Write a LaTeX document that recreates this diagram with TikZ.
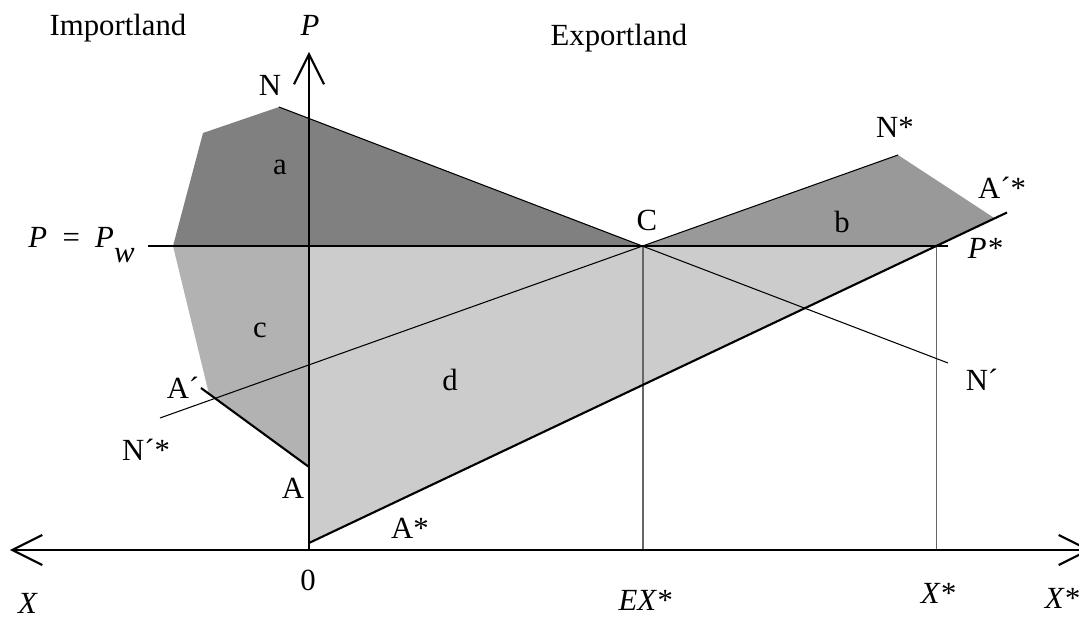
\documentclass[tikz,border=0pt]{standalone}
\usepackage{fontspec}
\setmainfont{Liberation Serif}
\usetikzlibrary{arrows.meta,calc,positioning}

\begin{document}
\begin{tikzpicture}[scale=1.0,
  barb/.tip={Straight Barb[length=0.6cm,width=0.6cm]},
  axisline/.style={line width=1.2pt},
  thickline/.style={line width=1.2pt},
  thinline/.style={line width=0.6pt},
  guide/.style={line width=0.6pt,black!60},
  lbl/.style={font=\fontsize{17.5}{21}\selectfont,inner sep=0pt}]
 \useasboundingbox (-6.18,-1.38) rectangle (15.4,11.0);
 % points
 \coordinate (O) at (0,0);
 \coordinate (C) at (6.68,6.08);
 \coordinate (S) at (12.55,6.08);
 \coordinate (Pl) at (-3.22,6.08);
 \coordinate (Pr) at (12.78,6.08);
 \coordinate (Ptop) at (0,9.96);
 \coordinate (Xl) at (-5.98,0);
 \coordinate (Xr) at (15.64,0);
 \coordinate (N) at (-0.6,8.86);
 \coordinate (Nd) at (12.78,3.74);
 \coordinate (Nsl) at (-2.98,2.64);
 \coordinate (Ns) at (11.78,7.9);
 \coordinate (Ap) at (-2.16,3.24);
 \coordinate (A) at (0,1.66);
 \coordinate (As0) at (0,0.14);
 \coordinate (As1) at (13.96,6.75);
 % areas
 \fill[black!50] (-2.72,6.08) -- (-2.12,8.34) -- (N) -- (C) -- cycle;
 \fill[black!40] (C) -- (Ns) -- (13.72,6.63) -- (S) -- cycle;
 \fill[black!30] (-2.72,6.08) -- (0,6.08) -- (A) -- (-2.0,3.12) -- cycle;
 \fill[black!20] (0,6.08) -- (S) -- (As0) -- cycle;
 % lines
 \draw[guide] (C) -- (C |- O);
 \draw[guide] (S) -- (S |- O);
 \draw[thinline] (N) -- (Nd);
 \draw[thinline] (Nsl) -- (Ns);
 \draw[thickline] (Ap) -- (A);
 \draw[thickline] (As0) -- (As1);
 \draw[thickline] (Pl) -- (Pr);
 \draw[axisline,-barb] (O) -- (Ptop);
 \draw[axisline,barb-barb] (Xl) -- (Xr);
 % labels
 \node[lbl] (imp) at (-3.82,10.44) {Importland};
 \node[lbl] (exp) at (6.2,10.24) {Exportland};
 \node[lbl] (lP) at (0.02,10.5) {\textit{P}};
 \node[lbl] (lN) at (-0.78,9.3) {N};
 \node[lbl] (la) at (-0.58,7.66) {a};
 \node[lbl,anchor=base west] (lPw) at (-5.62,6.04)
   {\textit{P}\hspace{0.5em}=\hspace{0.5em}\textit{P}\raisebox{-8pt}{\textit{w}}};
 \node[lbl] (lC) at (6.76,6.6) {C};
 \node[lbl] (lNs) at (11.72,8.46) {N*};
 \node[lbl] (lAps) at (13.86,7.24) {A´*};
 \node[lbl] (lb) at (10.66,6.56) {b};
 \node[lbl] (lPs) at (13.52,6.04) {\textit{P*}};
 \node[lbl] (lc) at (-0.98,4.4) {c};
 \node[lbl] (ld) at (2.82,3.4) {d};
 \node[lbl] (lAp) at (-2.52,3.24) {A´};
 \node[lbl] (lNps) at (-3.26,2.0) {N´*};
 \node[lbl] (lNp) at (13.46,3.4) {N´};
 \node[lbl] (lA) at (-0.32,1.24) {A};
 \node[lbl] (lAs) at (2.02,0.44) {A*};
 \node[lbl] (l0) at (-0.02,-0.6) {0};
 \node[lbl] (lX) at (-5.62,-1.06) {\textit{X}};
 \node[lbl] (lEX) at (6.72,-1.0) {\textit{EX*}};
 \node[lbl] (lXs) at (12.58,-0.86) {\textit{X*}};
 \node[lbl] (lXr) at (15.06,-0.96) {\textit{X*}};
\end{tikzpicture}
\end{document}
